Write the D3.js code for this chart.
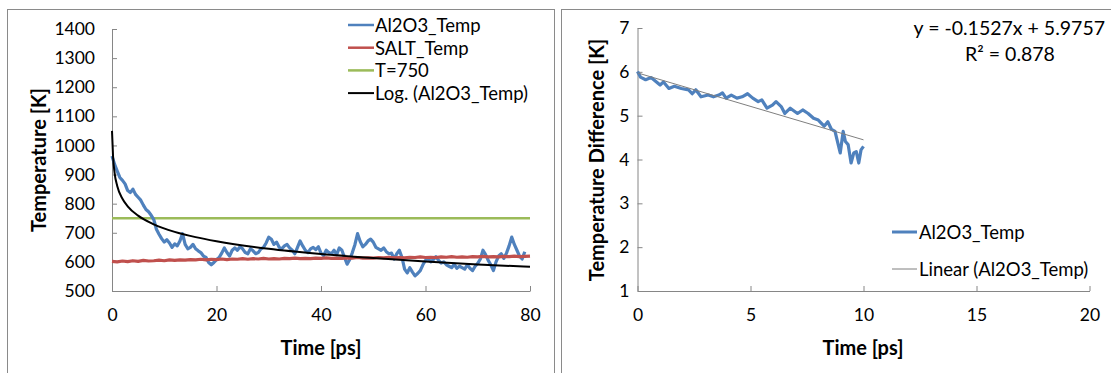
<!DOCTYPE html>
<html>
<head>
<meta charset="utf-8">
<script src="https://cdn.jsdelivr.net/npm/d3@7"></script>
<style>
  body { margin: 0; background: #fff; }
  svg { display: block; font-family: Lato, "Open Sans", sans-serif; }
  .axis path, .axis line { stroke: #868686; }
  .axis text { font-size: 17.5px; fill: #000; }
  .title { font-size: 20px; font-weight: bold; }
  .legend text { font-size: 18.5px; }
</style>
</head>
<body>
<div id="chart"></div>
<script>
// left chart: temperature vs time
const timeAl = d3.range(0, 80.5, 0.5);
const al2o3Temp = [
  964, 935, 912, 890, 880, 868, 845, 838, 850, 832, 822, 812, 795, 780, 772, 760,
  745, 712, 695, 680, 668, 676, 665, 650, 662, 655, 672, 697, 660, 645, 650, 660,
  645, 638, 632, 620, 615, 598, 590, 598, 608, 615, 630, 648, 632, 620, 640, 648,
  640, 652, 645, 632, 628, 645, 638, 628, 632, 645, 650, 665, 685, 678, 660, 668,
  650, 645, 655, 660, 648, 640, 628, 650, 672, 655, 640, 632, 645, 650, 642, 652,
  630, 622, 640, 632, 628, 640, 625, 648, 640, 615, 592, 608, 632, 660, 697, 670,
  652, 660, 672, 678, 668, 650, 645, 640, 648, 635, 628, 630, 610, 628, 640, 615,
  575, 562, 580, 565, 552, 560, 570, 590, 605, 612, 600, 608, 618, 605, 596, 600,
  590, 585, 580, 592, 578, 585, 580, 575, 590, 578, 570, 585, 595, 610, 640, 625,
  605, 590, 570, 600, 620, 628, 612, 630, 655, 685, 660, 640, 620, 610, 635
];

const timeSalt = d3.range(0, 81, 1);
const saltTemp = [
  602, 600, 603, 601, 604, 602, 605, 603, 604, 606, 604, 607, 605, 607, 606, 608,
  607, 609, 607, 609, 608, 610, 608, 610, 609, 611, 609, 611, 610, 612, 610, 611,
  610, 612, 611, 613, 611, 612, 611, 613, 612, 614, 612, 613, 612, 614, 613, 615,
  613, 614, 613, 615, 614, 616, 614, 615, 614, 616, 615, 617, 615, 616, 615, 617,
  616, 618, 616, 617, 616, 618, 617, 619, 617, 618, 617, 619, 618, 620, 618, 619, 620
];

const limitTime = [0, 80];
const limitTemp = [750, 750];

// log trendline
const logTime = [0, 0.2, 0.5, 1, 2, 3, 5, 8, 12, 16, 20, 30, 40, 50, 60, 70, 80];
const logTemp = [1050, 963, 905, 861, 817, 791, 759, 729, 703, 685, 671, 645, 627, 613, 601, 591, 583];

const leftYTicks = [500, 600, 700, 800, 900, 1000, 1100, 1200, 1300, 1400];
const leftXTicks = [0, 20, 40, 60, 80];

// right chart: temperature difference
const diffTime = [
  0, 0.13, 0.36, 0.6, 0.84, 1.0, 1.15, 1.39, 1.63, 1.94, 2.26, 2.42, 2.58, 2.81,
  3.13, 3.36, 3.6, 3.76, 3.92, 4.15, 4.4, 4.63, 4.87, 5.1, 5.34, 5.5, 5.73, 5.97,
  6.13, 6.37, 6.52, 6.76, 7.08, 7.31, 7.55, 7.79, 8.0, 8.26, 8.42, 8.58, 8.74, 8.9,
  8.97, 9.1, 9.2, 9.32, 9.45, 9.57, 9.68, 9.79, 9.89, 10
];
const diffValue = [
  6.01, 5.88, 5.82, 5.87, 5.77, 5.70, 5.77, 5.62, 5.67, 5.62, 5.59, 5.50, 5.59, 5.43,
  5.47, 5.43, 5.47, 5.52, 5.40, 5.47, 5.40, 5.43, 5.50, 5.40, 5.32, 5.36, 5.17, 5.24,
  5.32, 5.20, 5.05, 5.17, 5.05, 5.13, 5.05, 4.94, 4.90, 4.76, 4.86, 4.69, 4.64, 4.30,
  4.15, 4.64, 4.41, 4.34, 3.92, 4.15, 4.18, 3.92, 4.22, 4.30
];
const linTime = [0, 10];
const linValue = [5.9757, 4.4487];

const rightYTicks = [1, 2, 3, 4, 5, 6, 7];
const rightXTicks = [0, 5, 10, 15, 20];

const svg = d3.select("#chart").append("svg")
  .attr("width", 1111)
  .attr("height", 373);

// chart frames
svg.append("rect").attr("x", 7.5).attr("y", 9.5).attr("width", 547).attr("height", 400)
  .attr("fill", "none").attr("stroke", "#8a8a8a");
svg.append("rect").attr("x", 561.5).attr("y", 9.5).attr("width", 600).attr("height", 400)
  .attr("fill", "none").attr("stroke", "#8a8a8a");

function drawAxes(x, y, xTicks, yTicks, yPad) {
  svg.append("g")
    .attr("class", "axis")
    .attr("transform", `translate(0,${y.range()[0]})`)
    .call(d3.axisBottom(x).tickValues(xTicks).tickFormat(d3.format("d"))
      .tickSizeInner(-5).tickSizeOuter(0).tickPadding(18));
  svg.append("g")
    .attr("class", "axis")
    .attr("transform", `translate(${x.range()[0]},0)`)
    .call(d3.axisLeft(y).tickValues(yTicks).tickFormat(d3.format("d"))
      .tickSizeInner(-5).tickSizeOuter(0).tickPadding(yPad));
  svg.selectAll(".axis").attr("font-family", null).attr("font-size", null);
}

function drawLine(x, y, xs, ys, color, width, curve) {
  const pts = xs.map((t, i) => [t, ys[i]]);
  svg.append("path")
    .datum(pts)
    .attr("fill", "none")
    .attr("stroke", color)
    .attr("stroke-width", width)
    .attr("stroke-linejoin", "round")
    .attr("d", d3.line().x(d => x(d[0])).y(d => y(d[1])).curve(curve || d3.curveLinear));
}

// ---- left chart
const xL = d3.scaleLinear().domain([0, 80]).range([112, 530]);
const yL = d3.scaleLinear().domain([500, 1400]).range([291, 29]);
drawAxes(xL, yL, leftXTicks, leftYTicks, 17);

drawLine(xL, yL, limitTime, limitTemp, "#9bbb59", 2.5);
drawLine(xL, yL, timeAl, al2o3Temp, "#4f81bd", 3.2);
drawLine(xL, yL, timeSalt, saltTemp, "#c0504d", 3.2);
drawLine(xL, yL, logTime, logTemp, "#000", 2, d3.curveMonotoneX);

svg.append("text").attr("class", "title")
  .attr("transform", "translate(38,160) rotate(-90)")
  .attr("text-anchor", "middle").attr("dominant-baseline", "central")
  .text("Temperature [K]");
svg.append("text").attr("class", "title")
  .attr("x", 321).attr("y", 347)
  .attr("text-anchor", "middle").attr("dominant-baseline", "central")
  .text("Time [ps]");

const legendL = [
  { name: "Al2O3_Temp", color: "#4f81bd", w: 2.5 },
  { name: "SALT_Temp", color: "#c0504d", w: 2.5 },
  { name: "T=750", color: "#9bbb59", w: 2.5 },
  { name: "Log. (Al2O3_Temp)", color: "#000", w: 2 }
];
const legL = svg.append("g").attr("class", "legend");
legendL.forEach((d, i) => {
  const yy = 25 + i * 22.7;
  legL.append("line").attr("x1", 348).attr("x2", 374).attr("y1", yy).attr("y2", yy)
    .attr("stroke", d.color).attr("stroke-width", d.w);
  legL.append("text").attr("x", 375).attr("y", yy).attr("dominant-baseline", "central").text(d.name);
});

// ---- right chart
const xR = d3.scaleLinear().domain([0, 20]).range([637.5, 1089.5]);
const yR = d3.scaleLinear().domain([1, 7]).range([291, 28]);
drawAxes(xR, yR, rightXTicks, rightYTicks, 8);

drawLine(xR, yR, diffTime, diffValue, "#4f81bd", 3.2);
drawLine(xR, yR, linTime, linValue, "#7f7f7f", 1);

svg.append("text").attr("class", "title")
  .attr("transform", "translate(596,160) rotate(-90)")
  .attr("text-anchor", "middle").attr("dominant-baseline", "central")
  .text("Temperature Difference [K]");
svg.append("text").attr("class", "title")
  .attr("x", 863).attr("y", 347)
  .attr("text-anchor", "middle").attr("dominant-baseline", "central")
  .text("Time [ps]");

svg.append("text").attr("x", 1105).attr("y", 27)
  .attr("text-anchor", "end").attr("dominant-baseline", "central")
  .style("font-size", "19.5px")
  .text("y = -0.1527x + 5.9757");
svg.append("text").attr("x", 1010).attr("y", 53)
  .attr("text-anchor", "middle").attr("dominant-baseline", "central")
  .style("font-size", "19.5px")
  .text("R² = 0.878");

const legendR = [
  { name: "Al2O3_Temp", color: "#4f81bd", w: 3 },
  { name: "Linear (Al2O3_Temp)", color: "#7f7f7f", w: 1 }
];
const legR = svg.append("g").attr("class", "legend");
legendR.forEach((d, i) => {
  const yy = 232 + i * 37;
  legR.append("line").attr("x1", 892).attr("x2", 917).attr("y1", yy).attr("y2", yy)
    .attr("stroke", d.color).attr("stroke-width", d.w);
  legR.append("text").attr("x", 919).attr("y", yy).attr("dominant-baseline", "central").text(d.name);
});
</script>
</body>
</html>
